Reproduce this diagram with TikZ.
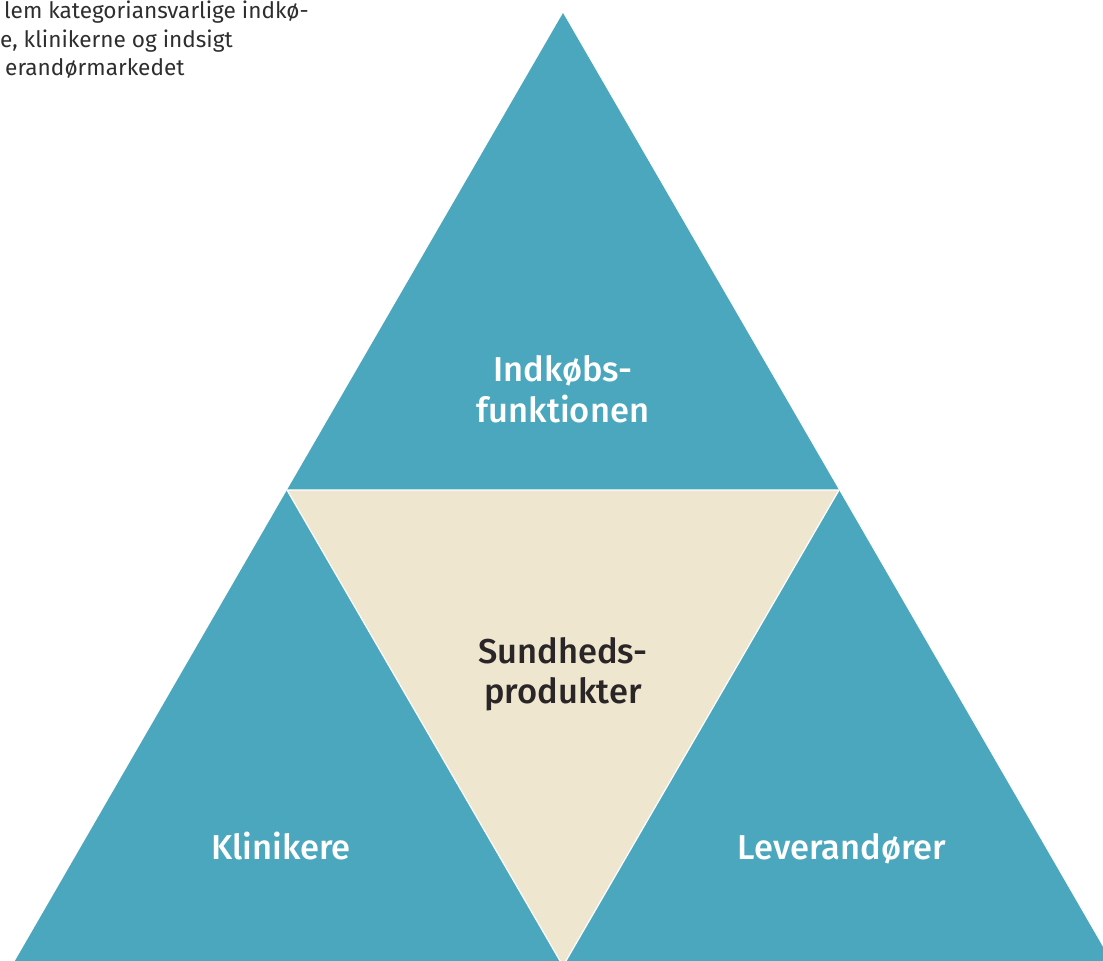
\documentclass[tikz,border=0pt]{standalone}
\usepackage{fontspec}
\setmainfont{Fira Sans}[BoldFont={Fira Sans Medium}]
\definecolor{tblue}{HTML}{4AA7BE}
\definecolor{tcream}{HTML}{EEE6CE}
\definecolor{tdark}{HTML}{2A2526}
\definecolor{tgray}{HTML}{2E2E2E}
\begin{document}
\begin{tikzpicture}[x=1pt,y=-1pt,
  tri/.style={draw=white,line width=1.2pt,line join=miter},
  lbl/.style={font=\fontsize{34.5}{40}\selectfont\bfseries,anchor=base,inner sep=0pt},
  note/.style={font=\fontsize{22.6}{27}\selectfont,text=tgray,anchor=base west,inner sep=0pt}]
\useasboundingbox (0,0) rectangle (1103,961);
\clip (0,0) rectangle (1103,961);
\coordinate (A) at (563,13);
\coordinate (L) at (287,490);
\coordinate (R) at (839,490);
\coordinate (BL) at (12,966);
\coordinate (BM) at (563,966);
\coordinate (BR) at (1114,966);
% triangles
\fill[tblue] (A) -- (L) -- (R) -- cycle;
\fill[tblue] (L) -- (BL) -- (BM) -- cycle;
\fill[tblue] (R) -- (BM) -- (BR) -- cycle;
\fill[tcream] (L) -- (R) -- (BM) -- cycle;
\draw[tri] (L) -- (R) -- (BM) -- cycle;
% labels
\node[lbl,text=white] (ind1) at (563,381) {Indkøbs-};
\node[lbl,text=white] (ind2) at (563,422) {funktionen};
\node[lbl,text=tdark] (sun1) at (563,663) {Sundheds-};
\node[lbl,text=tdark] (sun2) at (563,703) {produkter};
\node[lbl,text=white] (kli) at (281,859) {Klinikere};
\node[lbl,text=white] (lev) at (842,859) {Leverandører};
% cut-off note
\node[note] (n1) at (4,19) {lem kategoriansvarlige indkø-};
\node[note] (n2) at (0,47) {e, klinikerne og indsigt};
\node[note] (n3) at (5,75) {erandørmarkedet};
\end{tikzpicture}
\end{document}
